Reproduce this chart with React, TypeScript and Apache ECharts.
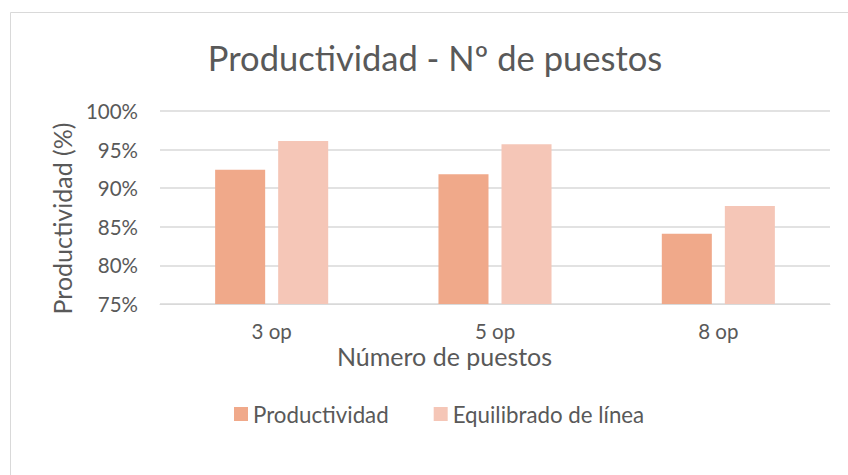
import React, { useEffect, useRef } from "react";
import * as echarts from "echarts";

const categories = ["3 op", "5 op", "8 op"];
const productividad = [92.4, 91.8, 84.1];
const equilibrado = [96.1, 95.7, 87.7];
const seriesNames = ["Productividad", "Equilibrado de línea"];
const titleText = "Productividad - Nº de puestos";
const yAxisName = "Productividad (%)";
const xAxisName = "Número de puestos";

const FONT = "Lato, 'Open Sans', sans-serif";
const TXT = "#595959";

export default function App() {
  const ref = useRef<HTMLDivElement>(null);
  useEffect(() => {
    if (!ref.current) return;
    const chart = echarts.init(ref.current, undefined, { renderer: "svg" });
    chart.setOption({
      animation: false,
      backgroundColor: "#ffffff",
      textStyle: { fontFamily: FONT },
      title: {
        text: titleText,
        left: 430,
        textAlign: "center",
        top: 35,
        textStyle: { fontFamily: FONT, fontSize: 34.5, fontWeight: "normal", color: TXT },
      },
      graphic: [
        {
          type: "rect",
          shape: { x: 10.5, y: 12.5, width: 900, height: 600 },
          style: { fill: "none", stroke: "#d9d9d9", lineWidth: 1 },
          silent: true,
        },
      ],
      legend: {
        data: seriesNames,
        top: 398,
        left: 229,
        itemWidth: 14,
        itemHeight: 14,
        itemGap: 45,
        icon: "rect",
        textStyle: { fontFamily: FONT, fontSize: 22.3, color: TXT },
      },
      grid: { left: 160, right: 18, top: 111, bottom: 171, containLabel: false },
      xAxis: {
        type: "category",
        data: categories,
        name: xAxisName,
        nameLocation: "middle",
        nameGap: 39,
        nameTextStyle: { fontFamily: FONT, fontSize: 25, color: TXT, padding: [0, 101, 0, 0] },
        axisTick: { show: false },
        axisLine: { lineStyle: { color: "#d9d9d9", width: 1 } },
        axisLabel: { fontFamily: FONT, fontSize: 20.5, color: TXT, margin: 16 },
      },
      yAxis: {
        type: "value",
        min: 75,
        max: 100,
        interval: 5,
        name: yAxisName,
        nameLocation: "middle",
        nameGap: 86,
        nameRotate: 90,
        nameTextStyle: { fontFamily: FONT, fontSize: 25, color: TXT, padding: [0, 22, 0, 0] },
        axisLine: { show: false },
        axisTick: { show: false },
        splitLine: { lineStyle: { color: "#d9d9d9", width: 1.5 } },
        axisLabel: {
          fontFamily: FONT,
          fontSize: 20.5,
          color: TXT,
          margin: 22,
          formatter: (v: number) => `${v}%`,
        },
      },
      series: [
        {
          name: seriesNames[0],
          type: "bar",
          data: productividad,
          barWidth: "22.4%",
          barGap: "26%",
          itemStyle: { color: "#f0a98a" },
        },
        {
          name: seriesNames[1],
          type: "bar",
          data: equilibrado,
          barWidth: "22.4%",
          itemStyle: { color: "#f5c6b7" },
        },
      ],
    });
    return () => chart.dispose();
  }, []);
  return (
    <div
      ref={ref}
      style={{ position: "fixed", left: 0, top: 0, width: 848, height: 475 }}
    />
  );
}
